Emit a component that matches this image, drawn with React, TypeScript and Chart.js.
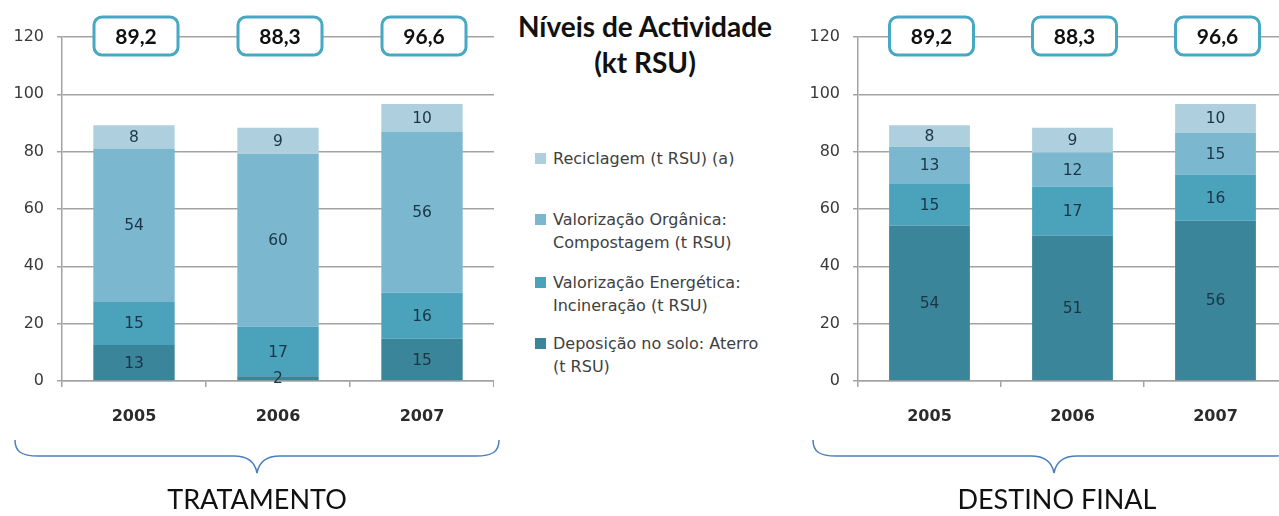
import React, { useEffect, useRef } from "react";
import { Chart, registerables } from "chart.js";

Chart.register(...registerables);

// ---------- data ----------
const years = ["2005", "2006", "2007"];
const yMin = 0;
const yMax = 120;
const yStep = 20;

const seriesNames = [
  "Deposição no solo: Aterro (t RSU)",
  "Valorização Energética: Incineração (t RSU)",
  "Valorização Orgânica: Compostagem (t RSU)",
  "Reciclagem (t RSU) (a)",
];
const seriesColors = ["#3a8599", "#4aa3bb", "#7bb8cf", "#aed0de"];

// TRATAMENTO (kt RSU)
const tratAterro = [12.6, 1.7, 14.7];
const tratIncineracao = [15.0, 17.2, 16.1];
const tratCompostagem = [53.5, 60.4, 56.2];
const tratReciclagem = [8.1, 9.0, 9.6];
const tratTotals = [89.2, 88.3, 96.6];

// DESTINO FINAL (kt RSU)
const destAterro = [54.2, 50.7, 56.0];
const destIncineracao = [14.5, 17.1, 16.0];
const destCompostagem = [13.0, 11.9, 14.6];
const destReciclagem = [7.5, 8.6, 10.0];
const destTotals = [89.2, 88.3, 96.6];

// legend (display order, top to bottom)
const legendItems = [
  { lines: ["Reciclagem (t RSU) (a)"], color: seriesColors[3], top: 147 },
  { lines: ["Valorização Orgânica:", "Compostagem (t RSU)"], color: seriesColors[2], top: 208 },
  { lines: ["Valorização Energética:", "Incineração (t RSU)"], color: seriesColors[1], top: 271 },
  { lines: ["Deposição no solo: Aterro", "(t RSU)"], color: seriesColors[0], top: 332 },
];

const CANVAS_H = 440;
const AXIS_BOTTOM = 381;
const AXIS_W = 62;
const GRID = "#a3a3a3";
const TICK_FONT = "DejaVu Sans";

const barLabelPlugin = {
  id: "barLabels",
  afterDatasetsDraw(chart: any) {
    const ctx = chart.ctx;
    ctx.save();
    ctx.font = `15.5px "${TICK_FONT}"`;
    ctx.fillStyle = "#1b3547";
    ctx.textAlign = "center";
    ctx.textBaseline = "middle";
    chart.data.datasets.forEach((ds: any, di: number) => {
      const meta = chart.getDatasetMeta(di);
      meta.data.forEach((el: any, i: number) => {
        const p = el.getProps(["x", "y", "base"], true);
        ctx.fillText(String(Math.round(ds.data[i])), p.x, (p.y + p.base) / 2 + 1);
      });
    });
    ctx.restore();
  },
};

function makeTotalsPlugin(totals: number[]) {
  return {
    id: "totalBoxes",
    afterDraw(chart: any) {
      const ctx = chart.ctx;
      const xs = chart.scales.x;
      const ys = chart.scales.y;
      ctx.save();
      totals.forEach((t, i) => {
        const cx = xs.getPixelForValue(i) + 2;
        const cy = ys.getPixelForValue(yMax) - 1;
        const w = 84;
        const h = 38;
        ctx.beginPath();
        ctx.roundRect(cx - w / 2, cy - h / 2, w, h, 8);
        ctx.fillStyle = "#ffffff";
        ctx.fill();
        ctx.lineWidth = 3;
        ctx.strokeStyle = "#47a8c3";
        ctx.stroke();
        ctx.fillStyle = "#111111";
        ctx.font = 'bold 21px "Lato"';
        ctx.textAlign = "center";
        ctx.textBaseline = "middle";
        ctx.fillText(t.toFixed(1).replace(".", ","), cx, cy + 1);
      });
      ctx.restore();
    },
  };
}

function buildDatasets(a: number[], b: number[], c: number[], d: number[]) {
  return [a, b, c, d].map((data, i) => ({
    label: seriesNames[i],
    data,
    backgroundColor: seriesColors[i],
    borderWidth: 0,
    categoryPercentage: 1,
    barPercentage: 0.565,
  }));
}

function StackedChart(props: { left: number; width: number; datasets: any[]; totals: number[] }) {
  const ref = useRef<HTMLCanvasElement | null>(null);
  useEffect(() => {
    if (!ref.current) return;
    const chart = new Chart(ref.current, {
      type: "bar",
      data: { labels: years, datasets: props.datasets },
      options: {
        animation: false,
        responsive: false,
        maintainAspectRatio: false,
        events: [],
        layout: { padding: { top: 37, left: 0, right: 0, bottom: 0 } },
        plugins: {
          legend: { display: false },
          tooltip: { enabled: false },
          title: { display: false },
        },
        scales: {
          x: {
            stacked: true,
            offset: true,
            grid: {
              display: true,
              offset: true,
              drawOnChartArea: false,
              drawTicks: true,
              tickLength: 6,
              color: GRID,
              lineWidth: 1.5,
            },
            border: { display: true, color: GRID, width: 1.5 },
            ticks: {
              color: "#2b2b2b",
              font: { family: TICK_FONT, size: 16, weight: "bold" },
              padding: 20,
            },
            afterFit: (s: any) => {
              s.height = CANVAS_H - AXIS_BOTTOM;
            },
          },
          y: {
            stacked: true,
            min: yMin,
            max: yMax,
            grid: { color: GRID, tickLength: 5, lineWidth: 1.5 },
            border: { display: true, color: GRID, width: 1.5 },
            ticks: {
              stepSize: yStep,
              color: "#3a3a3a",
              font: { family: TICK_FONT, size: 16 },
              padding: 13,
            },
            afterFit: (s: any) => {
              s.width = AXIS_W;
            },
          },
        },
      } as any,
      plugins: [barLabelPlugin, makeTotalsPlugin(props.totals)],
    });
    return () => chart.destroy();
  }, []);
  return (
    <canvas
      ref={ref}
      width={props.width}
      height={CANVAS_H}
      style={{ position: "absolute", left: props.left, top: 0, width: props.width, height: CANVAS_H }}
    />
  );
}

export default function App() {
  const tratDatasets = buildDatasets(tratAterro, tratIncineracao, tratCompostagem, tratReciclagem);
  const destDatasets = buildDatasets(destAterro, destIncineracao, destCompostagem, destReciclagem);
  return (
    <div
      style={{
        position: "absolute",
        left: 0,
        top: 0,
        width: 1279,
        height: 516,
        overflow: "hidden",
        background: "#ffffff",
      }}
    >
      <StackedChart left={0} width={494} datasets={tratDatasets} totals={tratTotals} />
      <StackedChart left={796} width={491} datasets={destDatasets} totals={destTotals} />

      {/* title */}
      <div
        style={{
          position: "absolute",
          left: 495,
          width: 300,
          top: 8,
          textAlign: "center",
          fontFamily: "Lato",
          fontWeight: "bold",
          fontSize: 28,
          lineHeight: "36px",
          color: "#111",
        }}
      >
        <div>Níveis de Actividade</div>
        <div>(kt RSU)</div>
      </div>

      {/* legend */}
      {legendItems.map((it, i) => (
        <div key={i} style={{ position: "absolute", left: 535, top: it.top }}>
          <div
            style={{
              position: "absolute",
              left: 0,
              top: 6,
              width: 11,
              height: 11,
              background: it.color,
            }}
          />
          <div
            style={{
              position: "absolute",
              left: 18,
              top: 0,
              whiteSpace: "nowrap",
              fontFamily: "DejaVu Sans",
              fontSize: 16,
              lineHeight: "23px",
              color: "#404040",
            }}
          >
            {it.lines.map((l, j) => (
              <div key={j}>{l}</div>
            ))}
          </div>
        </div>
      ))}

      {/* braces */}
      <svg
        width={1279}
        height={516}
        style={{ position: "absolute", left: 0, top: 0, pointerEvents: "none" }}
      >
        <path
          d="M 15 440 C 15 452, 22 456, 38 456 L 234 456 C 248 456, 255 462, 257 473 C 259 462, 266 456, 280 456 L 476 456 C 492 456, 499 452, 499 440"
          fill="none"
          stroke="#4a7ebb"
          strokeWidth={1.5}
        />
        <path
          d="M 813 440 C 813 452, 820 456, 836 456 L 1031 456 C 1045 456, 1052 462, 1054 473 C 1056 462, 1063 456, 1077 456 L 1273 456 C 1289 456, 1296 452, 1296 440"
          fill="none"
          stroke="#4a7ebb"
          strokeWidth={1.5}
        />
      </svg>

      {/* group labels */}
      <div
        style={{
          position: "absolute",
          left: 107,
          width: 300,
          top: 482,
          textAlign: "center",
          fontFamily: "Lato",
          fontSize: 27,
          lineHeight: "34px",
          color: "#111",
        }}
      >
        TRATAMENTO
      </div>
      <div
        style={{
          position: "absolute",
          left: 907,
          width: 300,
          top: 482,
          textAlign: "center",
          fontFamily: "Lato",
          fontSize: 27,
          lineHeight: "34px",
          color: "#111",
        }}
      >
        DESTINO FINAL
      </div>
    </div>
  );
}
